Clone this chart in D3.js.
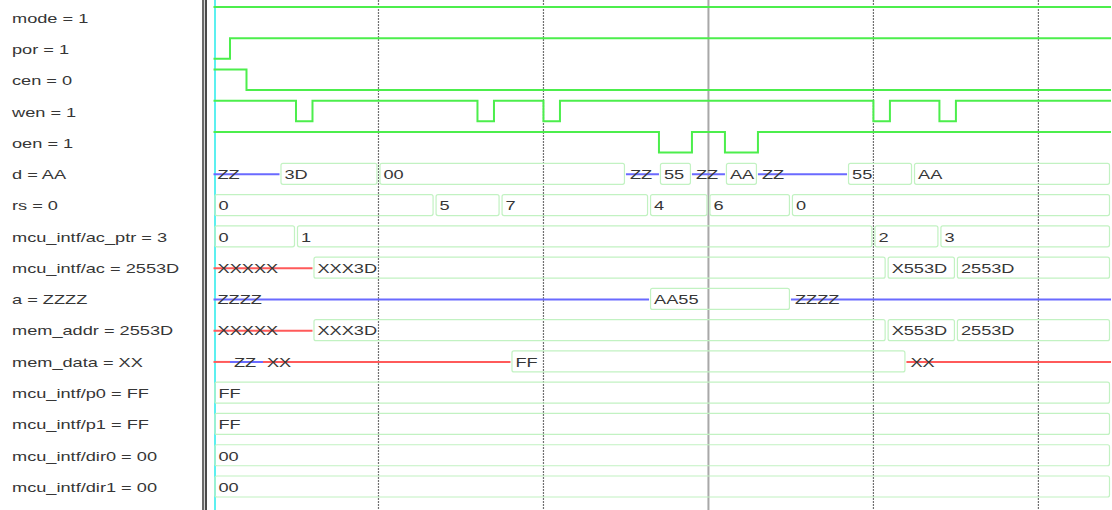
<!DOCTYPE html>
<html><head><meta charset="utf-8">
<script src="https://cdn.jsdelivr.net/npm/d3@7"></script>
<style>html,body{margin:0;padding:0;background:#fff;overflow:hidden}</style>
</head><body><svg id="wave" width="1112" height="510"></svg>
<script>
// Signal list, in display order, with the value at the cursor
const signalNames = ["mode", "por", "cen", "wen", "oen", "d", "rs", "mcu_intf/ac_ptr", "mcu_intf/ac",
  "a", "mem_addr", "mem_data", "mcu_intf/p0", "mcu_intf/p1", "mcu_intf/dir0", "mcu_intf/dir1"];
const cursorValues = ["1", "1", "0", "1", "1", "AA", "0", "3", "2553D", "ZZZZ", "2553D", "XX", "FF", "FF", "00", "00"];

// Single-bit waveforms: [time, level]
const modeWave = [[0, 1]];
const porWave = [[0, 0], [5, 1]];
const cenWave = [[0, 1], [10, 0]];
const wenWave = [[0, 1], [25, 0], [30, 1], [80, 0], [85, 1], [100, 0], [105, 1], [200, 0], [205, 1], [220, 0], [225, 1]];
const oenWave = [[0, 1], [135, 0], [145, 1], [155, 0], [165, 1]];

// Bus waveforms: [time, value]
const dWave = [[0, "ZZ"], [20, "3D"], [50, "00"], [125, "ZZ"], [135, "55"], [145, "ZZ"], [155, "AA"], [165, "ZZ"], [192, "55"], [212, "AA"]];
const rsWave = [[0, "0"], [67, "5"], [87, "7"], [132, "4"], [150, "6"], [175, "0"]];
const acPtrWave = [[0, "0"], [25, "1"], [200, "2"], [220, "3"]];
const acWave = [[0, "XXXXX"], [30, "XXX3D"], [204, "X553D"], [225, "2553D"]];
const aWave = [[0, "ZZZZ"], [132, "AA55"], [175, "ZZZZ"]];
const memAddrWave = [[0, "XXXXX"], [30, "XXX3D"], [204, "X553D"], [225, "2553D"]];
const memDataWave = [[0, "XX"], [5, "ZZ"], [15, "XX"], [90, "FF"], [210, "XX"]];
const p0Wave = [[0, "FF"]];
const p1Wave = [[0, "FF"]];
const dir0Wave = [[0, "00"]];
const dir1Wave = [[0, "00"]];

const waves = [modeWave, porWave, cenWave, wenWave, oenWave, dWave, rsWave, acPtrWave, acWave,
  aWave, memAddrWave, memDataWave, p0Wave, p1Wave, dir0Wave, dir1Wave];

const gridTimes = [50, 100, 200, 250];
const cursorTime = 150;
const endTime = 272;

const W = 1112, H = 510;
const svg = d3.select("#wave");
const x = d3.scaleLinear().domain([0, endTime]).range([213.5, 1111]);
const y = d3.scalePoint().domain(signalNames).range([18, 487]);
const level = d3.scaleLinear().domain([0, 1]).range([9.5, -11]);

const FONT = "'Liberation Sans', Arial, sans-serif";
const FS = 13, SX = 1.4;
const textColor = "#363636";

function addText(g, tx, ty, str) {
  return g.append("text")
    .attr("transform", `translate(${tx},${ty}) scale(${SX},1)`)
    .attr("font-family", FONT).attr("font-size", FS)
    .attr("fill", textColor).text(str);
}

// signal name panel
const names = svg.append("g");
signalNames.forEach((n, i) => addText(names, 12, y(n) + 4.8, `${n} = ${cursorValues[i]}`));

// panel divider
svg.append("rect").attr("x", 202).attr("y", 0).attr("width", 2).attr("height", H).attr("fill", "#6a6a6a");
svg.append("rect").attr("x", 204).attr("y", 0).attr("width", 1).attr("height", H).attr("fill", "#d4d4d4");
svg.append("rect").attr("x", 205).attr("y", 0).attr("width", 2).attr("height", H).attr("fill", "#4a4a4a");

// time grid
svg.append("g").selectAll("line").data(gridTimes).join("line")
  .attr("x1", d => x(d)).attr("x2", d => x(d)).attr("y1", 0).attr("y2", H)
  .attr("stroke", "#707070").attr("stroke-width", 1.2).attr("stroke-dasharray", "2,1");
svg.append("line").attr("x1", x(cursorTime)).attr("x2", x(cursorTime)).attr("y1", 0).attr("y2", H)
  .attr("stroke", "#a8a8a8").attr("stroke-width", 2);

// start cursor
svg.append("rect").attr("x", x(0) + 0.5).attr("y", 0).attr("width", 2).attr("height", H).attr("fill", "#5cf0f0");

const plot = svg.append("g");
const stepLine = d3.line().curve(d3.curveStepAfter);

waves.forEach((wave, i) => {
  const cy = y(signalNames[i]);
  const segs = wave.map((p, k) => ({ t0: p[0], t1: k + 1 < wave.length ? wave[k + 1][0] : endTime, v: p[1] }));
  if (typeof wave[0][1] === "number") {
    const pts = segs.map(s => [x(s.t0), cy + level(s.v)]);
    const last = segs[segs.length - 1];
    pts.push([x(endTime), cy + level(last.v)]);
    plot.append("path").attr("d", stepLine(pts)).attr("fill", "none")
      .attr("stroke", "#4cee4c").attr("stroke-width", 2);
    return;
  }
  segs.forEach(s => {
    const x0 = x(s.t0), x1 = x(s.t1);
    const isZ = /^Z+$/.test(s.v), isX = /^X+$/.test(s.v);
    let tx;
    if (isZ || isX) {
      plot.append("line").attr("x1", x0).attr("x2", x1).attr("y1", cy).attr("y2", cy)
        .attr("stroke", isZ ? "#6a6aff" : "#ff5a5a").attr("stroke-width", 2);
      tx = x0 + 4;
    } else {
      plot.append("rect").attr("x", x0 + 1.5).attr("y", cy - 11)
        .attr("width", Math.max(0, x1 - x0 - 3)).attr("height", 21).attr("rx", 2)
        .attr("fill", "none").attr("stroke", "#c2f2c2").attr("stroke-width", 1.2);
      tx = x0 + 5;
    }
    const t = addText(plot, tx, cy + 4.8, s.v);
    const w = t.node().getComputedTextLength() * SX;
    if (tx + w > x1 - 1 && s.t1 < endTime) t.remove();
  });
});
</script>
</body></html>
